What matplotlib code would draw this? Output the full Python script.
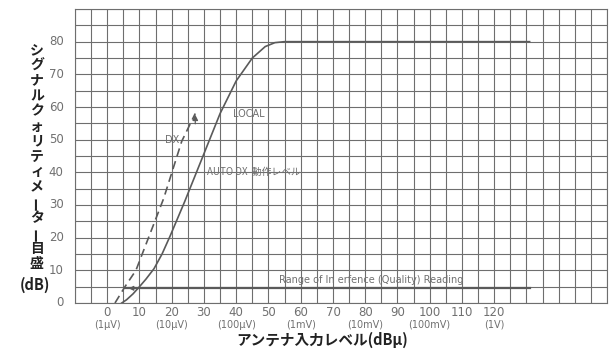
import matplotlib
matplotlib.use("Agg")
import matplotlib.pyplot as plt

plt.rcParams['font.family'] = ['Noto Sans CJK JP', 'DejaVu Sans']

# data
local_x = [4.5, 6, 8, 10, 12, 14.5, 17, 19.5, 24, 29.3, 35, 40, 45, 49, 52, 55, 131]
local_y = [0, 1, 2.8, 5, 7.3, 10.5, 15, 20.5, 31, 44, 58, 68, 75, 78.5, 79.7, 80, 80]
dx_x = [2.4, 5.5, 8.9, 13, 17.5, 23.1, 27.3]
dx_y = [0, 5, 10, 20.5, 32, 49.5, 58]
range_x = [5.5, 131]
range_y = [4.5, 4.5]

x_ticks = [0, 10, 20, 30, 40, 50, 60, 70, 80, 90, 100, 110, 120]
x_sub = {0: '(1μV)', 20: '(10μV)', 40: '(100μV)', 60: '(1mV)',
         80: '(10mV)', 100: '(100mV)', 120: '(1V)'}
y_ticks = [0, 10, 20, 30, 40, 50, 60, 70, 80]

ylabel_chars = "シグナルクォリティメーター目盛"

grid_c = '#6e6e6e'
ink = '#5a5a5a'
txt = '#707070'

fig = plt.figure(figsize=(6.12, 3.5), dpi=100)
ax = fig.add_axes([75 / 612, 47 / 350, 532 / 612, 294 / 350])
ax.set_xlim(-10, 155)
ax.set_ylim(0, 90)

# grid every 5 units
for gx in range(-10, 156, 5):
    ax.axvline(gx, color=grid_c, lw=0.8, zorder=1)
for gy in range(0, 91, 5):
    ax.axhline(gy, color=grid_c, lw=0.8, zorder=1)
for s in ax.spines.values():
    s.set_color(grid_c)
    s.set_linewidth(0.8)

ax.set_xticks([])
ax.set_yticks([])

ax.plot(local_x, local_y, color=ink, lw=1.2, zorder=3)
ax.plot(dx_x, dx_y, color=ink, lw=1.2, ls=(0, (5, 3)), zorder=3)
ax.plot(range_x, range_y, color=ink, lw=1.6, zorder=3)
ax.annotate('', xy=(5.8, 4.5), xytext=(10, 4.5),
            arrowprops=dict(arrowstyle='-|>', color=ink, lw=0.8,
                            mutation_scale=7), zorder=4)
ax.annotate('', xy=(27.3, 58.5), xytext=(27.3, 54),
            arrowprops=dict(arrowstyle='-|>', color=ink, lw=0.9,
                            mutation_scale=8), zorder=4)

ax.text(39, 58, 'LOCAL', color=txt, fontsize=7, va='center', ha='left',
        family='DejaVu Sans', zorder=5)
ax.text(18, 50, 'DX -', color=txt, fontsize=7, va='center', ha='left',
        family='DejaVu Sans', zorder=5)
ax.text(31, 40, 'AUTO DX  動作レベル', color=txt, fontsize=7, va='center',
        ha='left', zorder=5)
ax.text(82, 7.1, 'Range of In erfence (Quality) Reading', color=txt,
        fontsize=7, va='center', ha='center', family='DejaVu Sans', zorder=5)

# tick labels
for v in y_ticks:
    ax.text(-13.5, v, str(v), color=txt, fontsize=8.5, ha='right',
            va='center', family='DejaVu Sans')
for v in x_ticks:
    ax.text(v, -2.8, str(v), color=txt, fontsize=8.5, ha='center',
            va='center', family='DejaVu Sans')
    if v in x_sub:
        ax.text(v, -6.6, x_sub[v], color=txt, fontsize=7, ha='center',
                va='center', family='DejaVu Sans')

fig.text(322 / 612, 1 - 340 / 350, 'アンテナ入力レベル(dBμ)', fontsize=10.5,
         fontweight='bold', color='#222222', ha='center', va='center')

# vertical y label, one character at a time
top, step = 50, 15.3
for i, ch in enumerate(ylabel_chars):
    fig.text(37 / 612, 1 - (top + i * step) / 350, ch, fontsize=10,
             fontweight='bold', color='#222222', ha='center', va='center',
             rotation=90 if ch == 'ー' else 0)
fig.text(35 / 612, 1 - 285 / 350, '(dB)', fontsize=10.5, fontweight='bold',
         color='#222222', ha='center', va='center')

fig.savefig('out.png', dpi=100)
